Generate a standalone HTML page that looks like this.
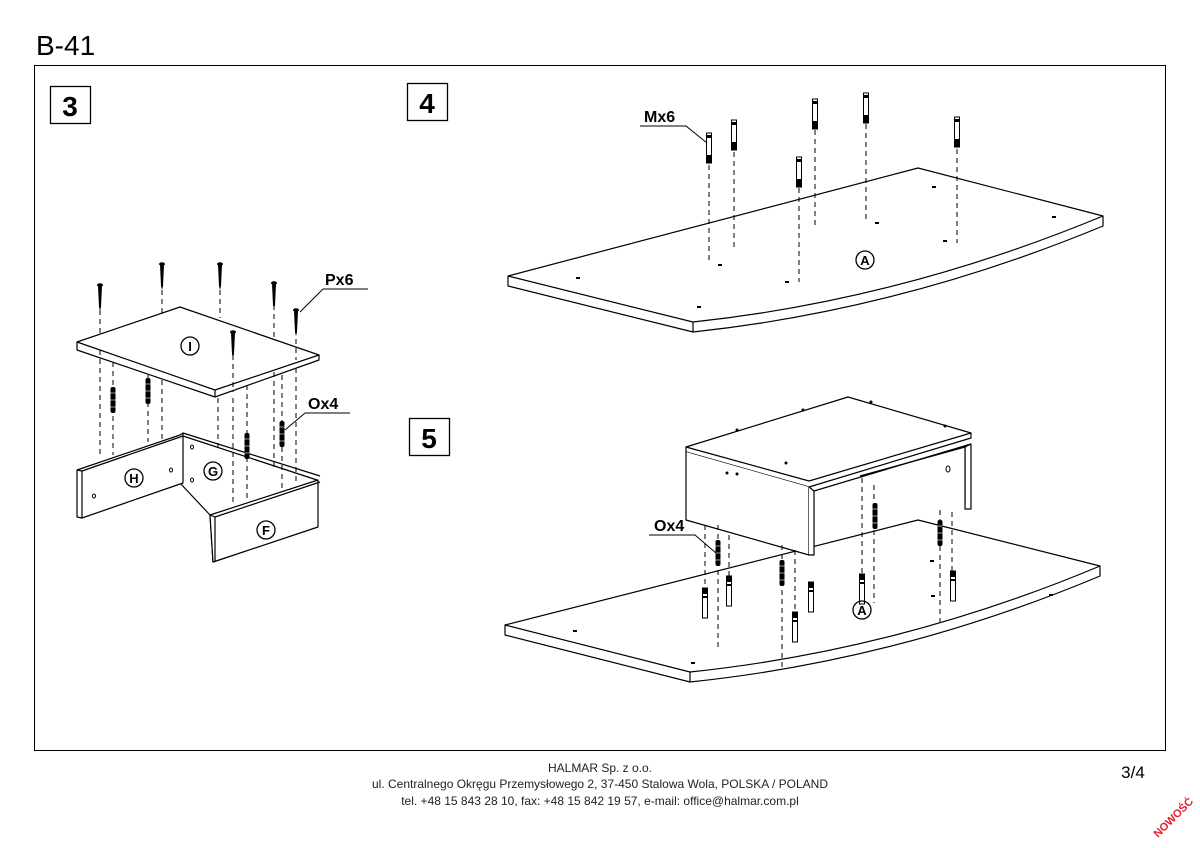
<!DOCTYPE html>
<html><head><meta charset="utf-8"><style>
html,body{margin:0;padding:0;background:#fff;}
svg{display:block;}
text{font-family:"Liberation Sans",Arial,sans-serif;}
</style></head><body>
<svg width="1200" height="848" viewBox="0 0 1200 848" xmlns="http://www.w3.org/2000/svg">
<defs>
<g id="pin"><rect x="-2.5" y="0" width="5" height="30" fill="#fff" stroke="#000" stroke-width="1"/><rect x="-2.5" y="2" width="5" height="3" fill="#000"/><rect x="-2.5" y="22" width="5" height="8" fill="#000"/></g>
<g id="pinup"><rect x="-2.5" y="0" width="5" height="30" fill="#fff" stroke="#000" stroke-width="1"/><rect x="-2.5" y="0" width="5" height="6" fill="#000"/><rect x="-2.5" y="8" width="5" height="2" fill="#000"/></g>
<g id="dowel"><rect x="-2.5" y="0" width="5" height="26" rx="2" fill="#000"/><line x1="-2.5" y1="6" x2="2.5" y2="6" stroke="#fff" stroke-width=".6"/><line x1="-2.5" y1="13" x2="2.5" y2="13" stroke="#fff" stroke-width=".6"/><line x1="-2.5" y1="20" x2="2.5" y2="20" stroke="#fff" stroke-width=".6"/></g>
<g id="screw"><ellipse cx="0" cy="0" rx="3" ry="1.8" fill="#000"/><path d="M-2 1 L2 1 L1 22 L0 26 L-1 22 Z" fill="#000"/></g>
</defs>
<text x="36" y="55" font-size="28" fill="#000">B-41</text>
<rect x="34.5" y="65.5" width="1131" height="685" fill="none" stroke="#000" stroke-width="1"/>
<!-- step numbers -->
<rect x="50.5" y="86.5" width="40" height="37" fill="#fff" stroke="#000" stroke-width="1.3"/>
<text x="70" y="116" font-size="28" font-weight="bold" text-anchor="middle">3</text>
<rect x="407.5" y="83.5" width="40" height="37" fill="#fff" stroke="#000" stroke-width="1.3"/>
<text x="427" y="113" font-size="28" font-weight="bold" text-anchor="middle">4</text>
<rect x="409.5" y="418.5" width="40" height="37" fill="#fff" stroke="#000" stroke-width="1.3"/>
<text x="429" y="448" font-size="28" font-weight="bold" text-anchor="middle">5</text>

<g fill="none" stroke="#000" stroke-width="1.2" stroke-linejoin="round">
<!-- STEP 4 board -->
<path d="M508 276 L918 168 L1103 216 Q900 300 693 322 Z" fill="#fff"/>
<path d="M508 276 L508 286 L693 332 Q900 310 1103 226 L1103 216"/>
<line x1="693" y1="322" x2="693" y2="332"/>
<!-- STEP 5 board -->
<path d="M505 625 L918 520 L1100 566 Q900 650 690 672 Z" fill="#fff"/>
<path d="M505 625 L505 635 L690 682 Q900 660 1100 576 L1100 566"/>
<line x1="690" y1="672" x2="690" y2="682"/>
<!-- STEP 5 box -->
<path d="M965 447 L971 444 L971 509 L965 509 Z" fill="#fff"/>
<path d="M860 476 L965 447 L965 505" fill="#fff"/>
<path d="M686 447 L848 397 L971 433 L809 481 Z" fill="#fff"/>
<path d="M686 447 L686 452 L809 487 L971 438 L971 433"/>
<path d="M686 452 L686 520 L809 555 L809 487" fill="#fff"/>
<path d="M809 487 L814 491 L814 555 L809 555" fill="#fff"/>
<line x1="814" y1="491" x2="971" y2="444"/>
<!-- STEP 3 -->
<!-- G panel -->
<path d="M180 435 L317 480 L317 527 L213 562 L210 515 L180 483 Z" fill="#fff"/>
<path d="M183 433 L320 476"/>
<!-- H panel -->
<path d="M77 470 L180 435 L183 433 L183 483 L82 518 L77 517 Z" fill="#fff"/>
<path d="M77 470 L82 471 L183 436"/>
<line x1="82" y1="471" x2="82" y2="518"/>
<!-- F panel -->
<path d="M210 515 L318 480 L318 527 L213 562 Z" fill="#fff"/>
<path d="M210 515 L215 517 L320 482"/>
<line x1="215" y1="517" x2="215" y2="562"/>
<!-- I panel -->
<path d="M77 342 L180 307 L319 355 L215 390 Z" fill="#fff"/>
<path d="M77 342 L77 350 L215 397 L319 360 L319 355"/>
<line x1="215" y1="390" x2="215" y2="397"/>
</g>

<!-- dashed lines -->
<g stroke="#000" stroke-width="1" stroke-dasharray="5,4" fill="none">
<!-- step 4 -->
<line x1="709" y1="165" x2="709" y2="260"/><line x1="734" y1="152" x2="734" y2="248"/>
<line x1="799" y1="188" x2="799" y2="282"/><line x1="815" y1="130" x2="815" y2="226"/>
<line x1="866" y1="124" x2="866" y2="220"/><line x1="957" y1="149" x2="957" y2="243"/>
<!-- step 5 -->
<line x1="705" y1="525" x2="705" y2="615"/><line x1="718" y1="525" x2="718" y2="648"/>
<line x1="729" y1="535" x2="729" y2="600"/><line x1="782" y1="545" x2="782" y2="668"/>
<line x1="795" y1="550" x2="795" y2="640"/><line x1="862" y1="478" x2="862" y2="575"/>
<line x1="874" y1="485" x2="874" y2="603"/><line x1="940" y1="510" x2="940" y2="622"/>
<line x1="952" y1="512" x2="952" y2="600"/>
<!-- step 3 top to screws -->
<line x1="100" y1="310" x2="100" y2="335"/><line x1="162" y1="290" x2="162" y2="313"/>
<line x1="220" y1="290" x2="220" y2="318"/><line x1="274" y1="305" x2="274" y2="340"/>
<line x1="296" y1="330" x2="296" y2="360"/><line x1="233" y1="355" x2="233" y2="392"/>
<!-- step 3 below I -->
<line x1="100" y1="350" x2="100" y2="455"/><line x1="113" y1="362" x2="113" y2="455"/>
<line x1="148" y1="375" x2="148" y2="442"/><line x1="162" y1="380" x2="162" y2="440"/>
<line x1="218" y1="398" x2="218" y2="452"/><line x1="233" y1="398" x2="233" y2="505"/>
<line x1="247" y1="385" x2="247" y2="500"/><line x1="274" y1="372" x2="274" y2="468"/>
<line x1="282" y1="375" x2="282" y2="490"/><line x1="296" y1="368" x2="296" y2="483"/>
</g>

<!-- pins step 4 -->
<use href="#pin" x="709" y="133"/><use href="#pin" x="734" y="120"/><use href="#pin" x="799" y="157"/>
<use href="#pin" x="815" y="99"/><use href="#pin" x="866" y="93"/><use href="#pin" x="957" y="117"/>
<!-- pins step 5 -->
<use href="#pinup" x="705" y="588"/><use href="#pinup" x="729" y="576"/><use href="#pinup" x="795" y="612"/>
<use href="#pinup" x="811" y="582"/><use href="#pinup" x="862" y="574"/><use href="#pinup" x="953" y="571"/>
<use href="#dowel" x="718" y="540"/><use href="#dowel" x="782" y="560"/><use href="#dowel" x="875" y="503"/><use href="#dowel" x="940" y="520"/>
<!-- step 3 screws & dowels -->
<use href="#screw" x="100" y="285"/><use href="#screw" x="162" y="264"/><use href="#screw" x="220" y="264"/>
<use href="#screw" x="274" y="283"/><use href="#screw" x="296" y="310"/><use href="#screw" x="233" y="332"/>
<use href="#dowel" x="113" y="387"/><use href="#dowel" x="148" y="378"/><use href="#dowel" x="247" y="433"/><use href="#dowel" x="282" y="421"/>

<!-- small holes -->
<g fill="#000">
<rect x="576" y="277" width="4" height="2"/><rect x="697" y="306" width="4" height="2"/><rect x="718" y="264" width="4" height="2"/>
<rect x="785" y="281" width="4" height="2"/><rect x="932" y="186" width="4" height="2"/><rect x="1052" y="216" width="4" height="2"/>
<rect x="875" y="222" width="4" height="2"/><rect x="943" y="240" width="4" height="2"/>
<rect x="573" y="630" width="4" height="2"/><rect x="691" y="662" width="4" height="2"/><rect x="931" y="595" width="4" height="2"/><rect x="1049" y="594" width="4" height="2"/><rect x="930" y="560" width="4" height="2"/>
<circle cx="727" cy="473" r="1.5"/><circle cx="737" cy="474" r="1.5"/><circle cx="737" cy="430" r="1.5"/><circle cx="803" cy="410" r="1.5"/><circle cx="871" cy="402" r="1.5"/><circle cx="945" cy="426" r="1.5"/><circle cx="786" cy="463" r="1.5"/>
</g>
<ellipse cx="948" cy="469" rx="2" ry="3" fill="none" stroke="#000"/>
<g fill="none" stroke="#000" stroke-width="1"><ellipse cx="94" cy="496" rx="1.5" ry="2"/><ellipse cx="171" cy="470" rx="1.5" ry="2"/><ellipse cx="192" cy="447" rx="1.5" ry="2"/><ellipse cx="192" cy="480" rx="1.5" ry="2"/></g>

<!-- circled labels -->
<g fill="none" stroke="#000" stroke-width="1.3">
<circle cx="865" cy="260" r="9"/><circle cx="862" cy="610" r="9"/><circle cx="190" cy="346" r="9"/>
<circle cx="134" cy="478" r="9"/><circle cx="213" cy="471" r="9"/><circle cx="266" cy="530" r="9"/>
</g>
<g font-size="13" font-weight="bold" text-anchor="middle">
<text x="865" y="265">A</text><text x="862" y="615">A</text><text x="190" y="351">I</text>
<text x="134" y="483">H</text><text x="213" y="476">G</text><text x="266" y="535">F</text>
</g>

<!-- leaders -->
<g fill="none" stroke="#000" stroke-width="1">
<polyline points="640,126 686,126 707,143"/>
<polyline points="323,289 368,289"/><line x1="323" y1="289" x2="300" y2="312"/>
<polyline points="305,413 350,413"/><line x1="305" y1="413" x2="285" y2="430"/>
<polyline points="649,535 695,535 716,553"/>
</g>
<g font-size="16" font-weight="bold">
<text x="644" y="122">Mx6</text><text x="325" y="285">Px6</text><text x="308" y="409">Ox4</text><text x="654" y="531">Ox4</text>
</g>

<!-- footer -->
<g font-size="12" text-anchor="middle" fill="#222" font-family="'DejaVu Sans','Liberation Sans',sans-serif">
<text x="600" y="772" font-family="DejaVu Sans, sans-serif">HALMAR Sp. z o.o.</text>
<text x="600" y="788" font-family="DejaVu Sans, sans-serif">ul. Centralnego Okręgu Przemysłowego 2, 37-450 Stalowa Wola, POLSKA / POLAND</text>
<text x="600" y="805" font-family="DejaVu Sans, sans-serif">tel. +48 15 843 28 10, fax: +48 15 842 19 57, e-mail: office@halmar.com.pl</text>
</g>
<text x="1133" y="778" font-size="17" text-anchor="middle">3/4</text>
<text x="0" y="0" font-size="11" font-weight="bold" fill="#e0202a" transform="translate(1158,838) rotate(-45)">NOWOŚĆ</text>
</svg>
</body></html>
